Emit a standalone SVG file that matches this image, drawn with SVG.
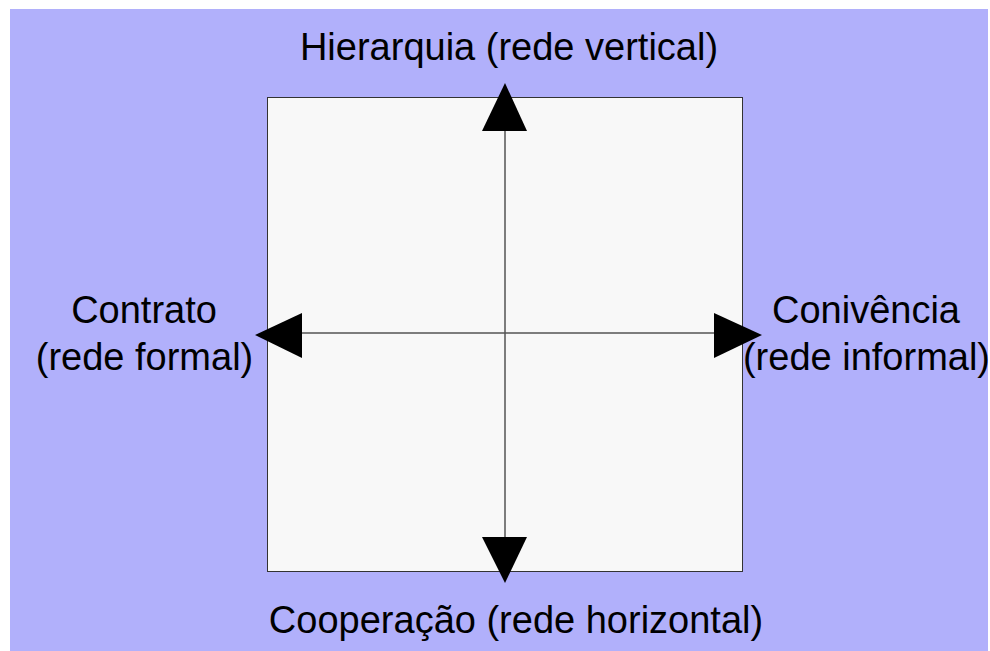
<svg xmlns="http://www.w3.org/2000/svg" width="990" height="651" viewBox="0 0 990 651">
  <style>
    .lbl { font-family: "Liberation Sans", Arial, sans-serif; font-size: 38px; fill: #000; text-anchor: middle; }
    .axis { stroke: #555; stroke-width: 1.5; fill: none; }
    .head { fill: #000; }
  </style>
  <rect x="0" y="0" width="990" height="651" fill="#ffffff"/>
  <rect x="10" y="9" width="978" height="642" fill="#B1B0FB"/>
  <g id="box">
    <rect x="267.5" y="97.5" width="475" height="474" fill="#F8F8F8" stroke="#333" stroke-width="1"/>
  </g>
  <g id="connectors">
    <line class="axis" x1="505" y1="120" x2="505" y2="545"/>
    <line class="axis" x1="290" y1="333" x2="725" y2="333"/>
    <polygon class="head" points="505,83 482,131 527,131"/>
    <polygon class="head" points="505,583 482,537 527,537"/>
    <polygon class="head" points="255,335 302,313 302,358"/>
    <polygon class="head" points="762,335 714,313 714,358"/>
  </g>
  <g id="top">
    <text class="lbl" x="509" y="60">Hierarquia (rede vertical)</text>
  </g>
  <g id="bottom">
    <text class="lbl" x="516" y="633">Cooperação (rede horizontal)</text>
  </g>
  <g id="left">
    <text class="lbl" x="144" y="323">Contrato</text>
    <text class="lbl" x="144.5" y="370">(rede formal)</text>
  </g>
  <g id="right">
    <text class="lbl" x="866" y="323">Conivência</text>
    <text class="lbl" x="866.5" y="370">(rede informal)</text>
  </g>
</svg>
